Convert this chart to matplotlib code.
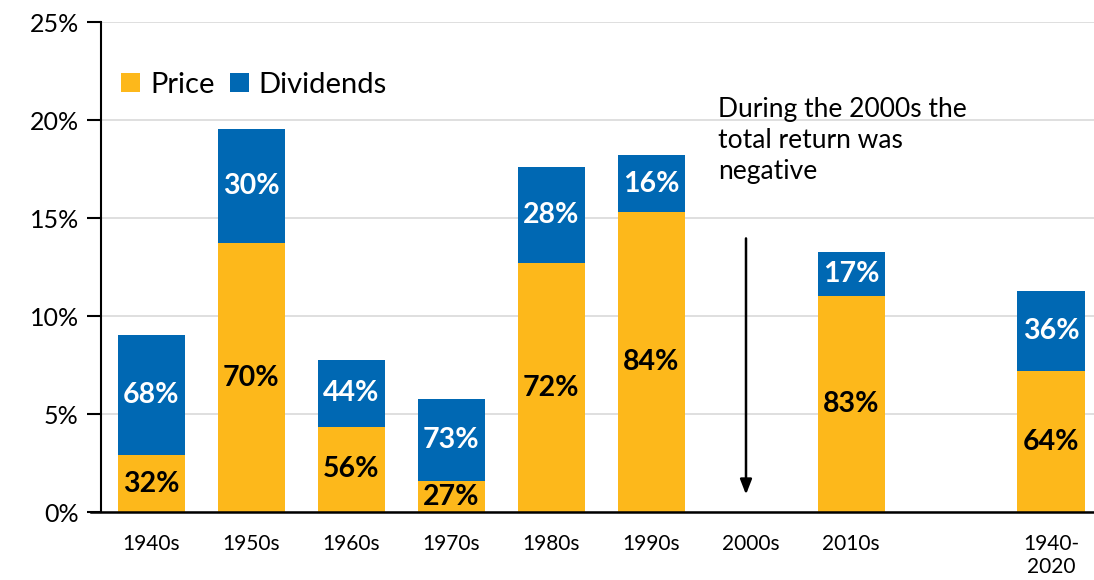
import matplotlib.pyplot as plt
import numpy as np

# ===== データ =====
labels = ["1940s", "1950s", "1960s", "1970s", "1980s", "1990s", "2000s", "2010s", "", "1940-\n2020"]
price = [2.9, 13.7, 4.34, 1.58, 12.7, 15.3, 0.0, 11.02, 0.0, 7.19]
divs = [6.13, 5.84, 3.42, 4.19, 4.9, 2.9, 0.0, 2.25, 0.0, 4.09]
price_pct = ["32%", "70%", "56%", "27%", "72%", "84%", "", "83%", "", "64%"]
div_pct = ["68%", "30%", "44%", "73%", "28%", "16%", "", "17%", "", "36%"]

ORANGE = "#FDB81B"
BLUE = "#0068B3"

plt.rcParams["font.family"] = ["Lato", "DejaVu Sans"]

fig = plt.figure(figsize=(10.94, 5.8), dpi=100)
ax = fig.add_axes([101 / 1094, 1 - 512 / 580, 993 / 1094, 490 / 580])

x = np.arange(len(labels))
has = [p + d > 0 for p, d in zip(price, divs)]
xb = x[has]
pb = np.array(price)[has]
db = np.array(divs)[has]
ax.bar(xb, pb, width=0.67, color=ORANGE, label="Price", zorder=3)
ax.bar(xb, db, width=0.67, bottom=pb, color=BLUE, label="Dividends", zorder=3)

for i in range(len(labels)):
    if not has[i]:
        continue
    ax.text(x[i], price[i] / 2, price_pct[i], ha="center", va="center",
            fontsize=20.5, fontweight="bold", color="black", zorder=4)
    ax.text(x[i], price[i] + divs[i] / 2, div_pct[i], ha="center", va="center",
            fontsize=20.5, fontweight="bold", color="white", zorder=4)

ax.set_xlim(-0.5, 9.43)
ax.set_ylim(0, 25)
ax.set_yticks(np.arange(0, 26, 5))
ax.set_yticklabels([f"{v}%" for v in range(0, 26, 5)], fontsize=18)
ax.set_xticks(x)
ax.set_xticklabels(labels, fontsize=15, linespacing=1.2, va="top")
ax.tick_params(axis="x", length=0, pad=16)
ax.tick_params(axis="y", length=10, width=1.5, pad=6)
ax.yaxis.grid(True, color="#D9D9D9", linewidth=1.2, zorder=0)
ax.set_axisbelow(True)

for s in ["top", "right", "bottom"]:
    ax.spines[s].set_visible(False)
ax.spines["left"].set_linewidth(1.5)
ax.plot([-0.6, 9.43], [0, 0], color="black", linewidth=1.8, clip_on=False, zorder=5)

# 2000s の注記
ax.annotate("", xy=(5.95, 0.75), xytext=(5.95, 14.1),
            arrowprops=dict(arrowstyle="-|>,head_length=0.9,head_width=0.35",
                            color="black", lw=1.8))
ax.text(5.67, 21.15, "During the 2000s the\ntotal return was\nnegative",
        ha="left", va="top", fontsize=19, linespacing=1.3)

ax.legend(loc="upper left", bbox_to_anchor=(0.0, 0.94), ncol=2, frameon=False,
          fontsize=21, handlelength=0.65, handleheight=0.65, handletextpad=0.35,
          columnspacing=0.5, borderaxespad=0.3)

fig.savefig("out.png", facecolor="white")
